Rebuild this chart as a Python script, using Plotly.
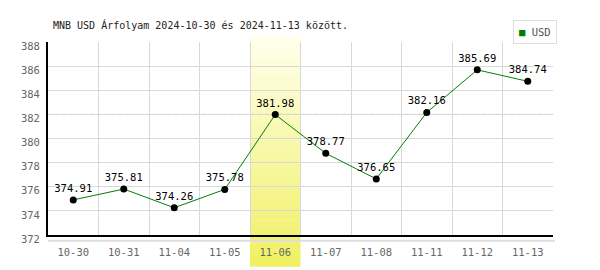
import plotly.graph_objects as go

dates = ["10-30", "10-31", "11-04", "11-05", "11-06", "11-07", "11-08", "11-11", "11-12", "11-13"]
usd = [374.91, 375.81, 374.26, 375.78, 381.98, 378.77, 376.65, 382.16, 385.69, 384.74]
highlight_idx = 4
ref_level = 382
title_text = "MNB USD Árfolyam 2024-10-30 és 2024-11-13 között."
legend_name = "USD"

MONO = "DejaVu Sans Mono"

fig = go.Figure()
fig.add_trace(go.Scatter(
    x=dates, y=usd, mode="lines+markers+text",
    line=dict(color="#008000", width=1),
    marker=dict(color="black", size=7),
    text=[f"{v:.2f}" for v in usd], textposition="top center",
    textfont=dict(family=MONO, size=10.5, color="black"),
    showlegend=False, cliponaxis=False,
))

# gradient highlight column
n = 40
top, bot = 1.026, -0.165
c_top = (255, 255, 238)
c_bot = (240, 240, 96)
for i in range(n):
    t = (i + 0.5) / n
    r = round(c_top[0] + (c_bot[0] - c_top[0]) * t)
    g = round(c_top[1] + (c_bot[1] - c_top[1]) * t)
    b = round(c_top[2] + (c_bot[2] - c_top[2]) * t)
    y1 = top + (bot - top) * i / n
    y0 = top + (bot - top) * (i + 1) / n
    fig.add_shape(type="rect", xref="x", yref="paper",
                  x0=highlight_idx - 0.5, x1=highlight_idx + 0.5, y0=y0, y1=y1 + 0.002,
                  fillcolor=f"rgb({r},{g},{b})", line=dict(width=0), layer="between")

fig.add_shape(type="line", xref="paper", yref="y", x0=0, x1=1, y0=ref_level, y1=ref_level,
              line=dict(color="#7cc87c", width=1, dash="4px,3px"), layer="between")
fig.add_shape(type="line", xref="paper", yref="paper", x0=0, x1=1.004, y0=-0.03, y1=-0.03,
              line=dict(color="#dddddd", width=2), layer="below")

fig.add_annotation(xref="paper", yref="paper", x=(513 - 48) / 505, y=(238 - 20) / 196,
                   xanchor="left", yanchor="top",
                   text=f"<span style='color:#008000'>■</span> {legend_name}", showarrow=False,
                   font=dict(family=MONO, size=10.5, color="#555555"),
                   bordercolor="#dddddd", borderwidth=1, borderpad=5, bgcolor="white")

fig.update_layout(
    width=600, height=270,
    margin=dict(l=48, r=47, t=42, b=32),
    paper_bgcolor="white", plot_bgcolor="white",
    title=dict(text=title_text, x=53 / 600, xanchor="left", xref="container",
               y=1 - 25 / 270, yanchor="middle", yref="container",
               font=dict(family=MONO, size=10, color="#222222")),
    xaxis=dict(type="category", range=[-0.5, len(dates) - 0.5], tickson="boundaries",
               showgrid=True, gridcolor="#d8d8d8", gridwidth=1,
               showline=True, linecolor="black", linewidth=2, ticks="",
               tickfont=dict(family=MONO, size=10.5, color="#666666"), ticklabelstandoff=6,
               zeroline=False, fixedrange=True),
    yaxis=dict(range=[372, 388], dtick=2, showgrid=True, gridcolor="#d8d8d8", gridwidth=1,
               showline=True, linecolor="black", linewidth=2, ticks="",
               tickfont=dict(family=MONO, size=10.5, color="#666666"), zeroline=False,
               ticklabelshift=4, ticklabelstandoff=4, fixedrange=True),
    showlegend=False,
)

fig.write_html("out.html")
